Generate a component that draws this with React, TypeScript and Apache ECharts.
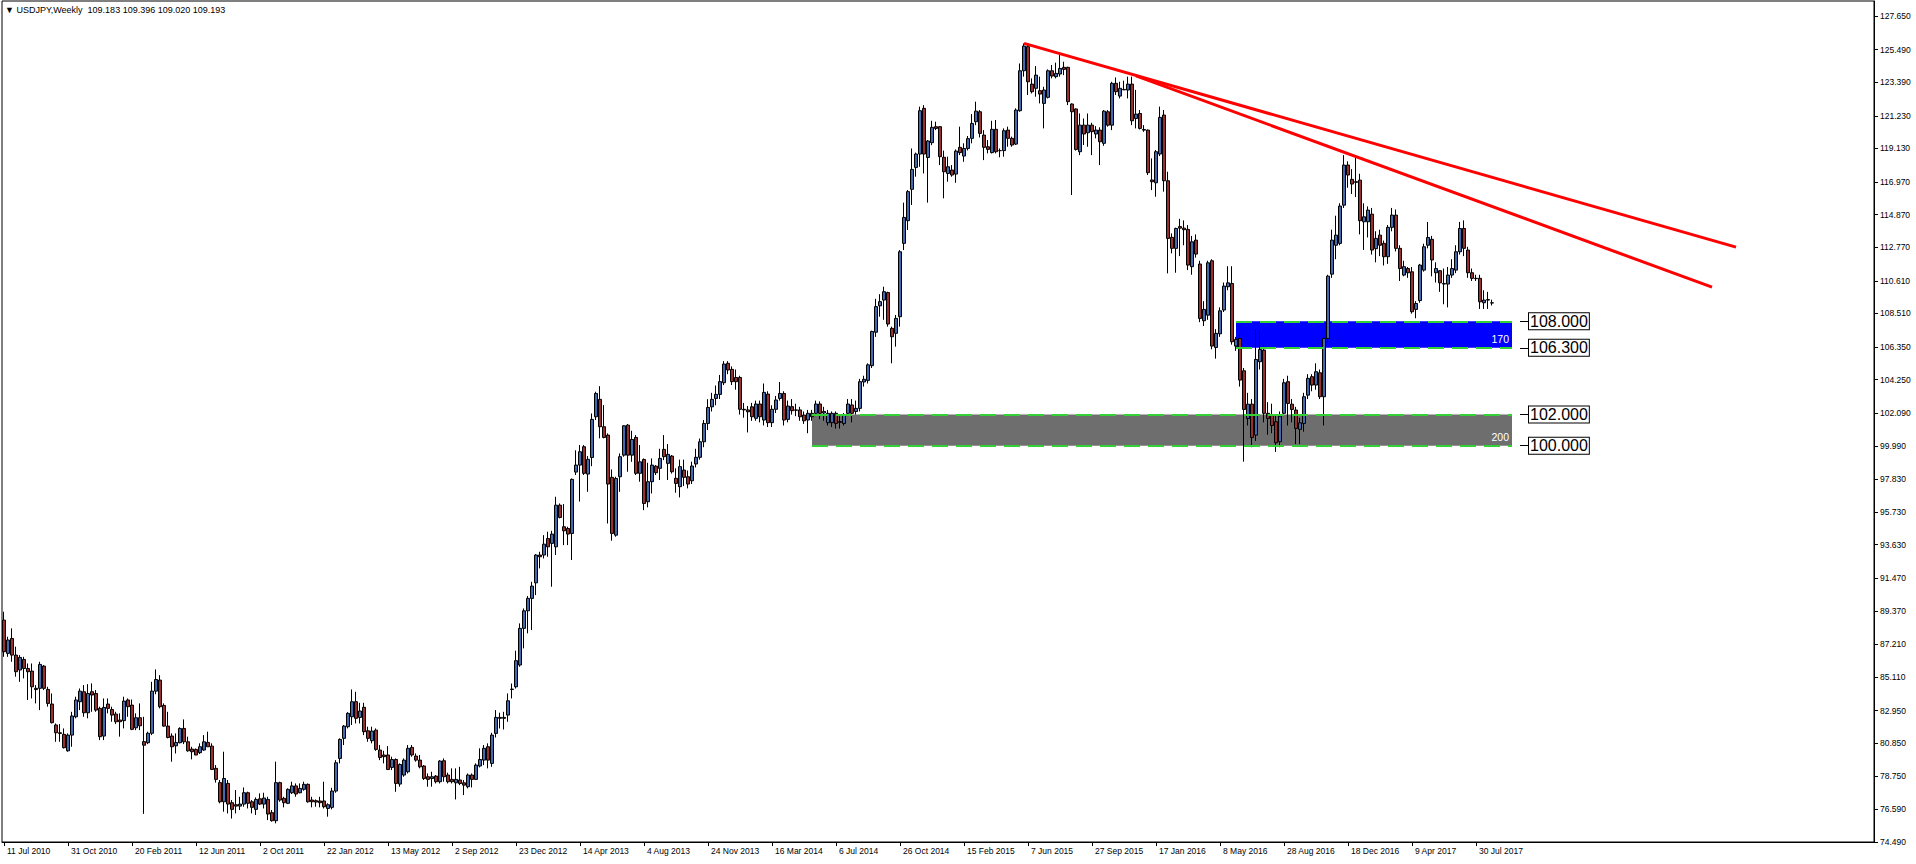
import React, { useEffect, useRef } from "react";
import * as echarts from "echarts";

// ---------- text / meta ----------
const SYMBOL_TITLE = "USDJPY,Weekly";
const TITLE_QUOTE = ["109.183", "109.396", "109.020", "109.193"];
const LAST_PRICE = 109.193;
const MONTHS = ["Jan", "Feb", "Mar", "Apr", "May", "Jun", "Jul", "Aug", "Sep", "Oct", "Nov", "Dec"];
const WEEK_SLOTS = 468; // visible weekly slots incl. right-side chart shift
const LABEL_STEP = 16; // a date label every 16 weeks

// right axis tick labels as printed
const priceTicks = [
  74.49, 76.59, 78.75, 80.85, 82.95, 85.11, 87.21, 89.37, 91.47, 93.63, 95.73, 97.83, 99.99,
  102.09, 104.25, 106.35, 108.51, 110.61, 112.77, 114.87, 116.97, 119.13, 121.23, 123.39, 125.49, 127.65,
];

// ---------- weekly candles [open, high, low, close] ----------
const w2010 = [
  [88.77, 89.31, 86.41, 86.74], [86.63, 87.7, 86.41, 87.49], [87.59, 88.24, 86.09, 86.52], [86.52, 87.06, 85.13, 85.45],
  [85.56, 86.52, 84.8, 86.37], [86.24, 86.41, 85.02, 85.66], [85.66, 85.98, 83.63, 85.45], [85.49, 85.98, 83.73, 84.48],
  [84.38, 84.59, 83.41, 84.3], [84.38, 86.09, 82.98, 85.92], [85.81, 85.88, 84.27, 84.38], [84.31, 84.48, 83.2, 83.41],
  [83.37, 84.05, 82.12, 82.17], [82.02, 82.12, 80.94, 81.52], [81.52, 82.08, 80.94, 81.48], [81.42, 81.8, 80.51, 80.56],
  [80.36, 81.48, 80.3, 81.37], [81.37, 82.87, 80.62, 82.6], [82.55, 83.84, 82.45, 83.63], [83.52, 84.37, 82.98, 84.2],
  [84.16, 84.59, 82.55, 82.81], [82.81, 84.65, 82.45, 84.05], [84.16, 84.7, 82.87, 83.95], [84.05, 84.27, 82.87, 82.98],
  [83.09, 83.2, 81.05, 81.27],
];
const w2011 = [
  [81.31, 83.73, 81.05, 83.15], [83.37, 83.73, 82.77, 83.09], [83.02, 83.2, 82.23, 82.66], [82.72, 82.87, 82.08, 82.23],
  [82.34, 82.77, 81.27, 82.23], [82.3, 83.84, 81.8, 83.56], [83.63, 83.73, 82.55, 83.2], [83.3, 83.66, 81.69, 81.74],
  [81.84, 82.77, 81.69, 82.49], [82.49, 83.41, 81.69, 81.97], [80.95, 82.55, 76.3, 80.72], [80.88, 81.59, 80.79, 81.49],
  [81.49, 84.8, 81.37, 84.2], [84.2, 85.6, 84.0, 84.95], [84.91, 85.23, 83.09, 83.2], [83.28, 83.41, 81.91, 81.95],
  [81.95, 82.87, 81.16, 81.22], [81.31, 81.48, 79.66, 80.62], [80.68, 81.48, 80.19, 80.9], [80.88, 81.87, 80.84, 81.8],
  [81.8, 82.38, 80.79, 80.94], [80.94, 81.27, 80.3, 80.36], [80.47, 80.62, 79.81, 80.3], [80.45, 80.51, 80.08, 80.09],
  [80.24, 80.84, 80.15, 80.62], [80.41, 81.37, 80.36, 80.94], [80.9, 81.59, 80.62, 80.62], [80.66, 80.84, 79.12, 79.16],
  [79.23, 79.44, 78.31, 78.52], [78.31, 78.48, 76.98, 77.08], [77.08, 80.3, 76.44, 78.58], [78.26, 78.48, 76.33, 76.93],
  [77.02, 77.19, 76.0, 76.59], [76.89, 77.83, 76.33, 76.8], [76.8, 77.4, 76.55, 76.93], [76.93, 78.0, 76.76, 77.66],
  [77.66, 77.73, 76.65, 76.98], [77.08, 77.19, 76.33, 76.72], [76.59, 77.36, 76.23, 77.23], [77.27, 77.62, 76.87, 76.93],
  [76.93, 77.66, 76.65, 77.32], [77.23, 77.4, 75.9, 76.29], [76.38, 76.55, 75.8, 75.86], [75.86, 79.66, 75.69, 78.31],
  [78.31, 78.37, 77.08, 77.19], [77.3, 77.4, 76.72, 77.02], [76.98, 77.94, 76.93, 77.88], [77.66, 78.37, 77.58, 78.1],
  [78.1, 78.26, 77.4, 77.58], [77.66, 78.26, 77.62, 77.94], [77.88, 78.37, 77.79, 78.2], [78.2, 78.26, 77.02, 77.08],
];
const w2012 = [
  [77.19, 77.4, 76.72, 77.08], [77.15, 77.23, 76.76, 77.06], [77.13, 77.4, 76.72, 77.02], [77.13, 78.37, 76.65, 76.76],
  [76.65, 76.98, 76.12, 76.89], [76.72, 77.98, 76.59, 77.77], [77.77, 79.76, 77.66, 79.59], [79.87, 81.16, 79.55, 81.09],
  [81.16, 82.02, 80.73, 81.95], [81.91, 82.85, 81.8, 82.77], [82.55, 84.31, 82.02, 83.52], [83.52, 84.16, 82.12, 82.45],
  [82.51, 83.45, 82.12, 82.92], [83.16, 83.45, 81.37, 81.59], [81.65, 81.91, 80.94, 81.16], [81.01, 81.91, 80.84, 81.63],
  [81.69, 81.8, 80.36, 80.45], [80.41, 80.73, 79.76, 79.93], [80.09, 80.36, 79.55, 79.98], [80.09, 80.66, 79.12, 79.16],
  [79.29, 79.98, 79.12, 79.8], [79.8, 79.87, 77.72, 78.26], [78.22, 79.55, 78.05, 79.48], [78.8, 79.87, 78.69, 79.76],
  [79.01, 80.73, 78.9, 80.52], [80.58, 80.73, 79.98, 80.09], [80.02, 80.19, 79.66, 79.76], [79.76, 80.09, 79.23, 79.33],
  [79.38, 79.44, 78.48, 78.58], [78.69, 78.9, 78.05, 78.52], [78.58, 79.01, 78.05, 78.69], [78.73, 78.8, 78.26, 78.37],
  [78.37, 79.76, 78.26, 79.7], [79.72, 79.87, 78.37, 78.69], [78.8, 78.95, 78.26, 78.37], [78.52, 79.23, 78.26, 78.37],
  [78.3, 79.23, 77.23, 78.52], [78.48, 79.33, 78.15, 78.26], [78.3, 78.48, 77.51, 78.15], [78.05, 78.9, 77.94, 78.8],
  [78.8, 78.9, 78.0, 78.52], [78.52, 79.55, 78.48, 79.44], [79.38, 80.52, 79.29, 79.8], [79.76, 80.73, 79.44, 80.52],
  [80.62, 80.84, 79.23, 79.76], [79.55, 81.52, 79.33, 81.37], [81.48, 82.98, 81.22, 82.51], [82.45, 82.81, 81.8, 82.51],
  [82.51, 82.87, 81.73, 82.45], [82.66, 84.05, 82.23, 83.58], [84.33, 84.69, 83.73, 84.31], [84.48, 86.8, 84.37, 86.16],
  [85.88, 88.56, 85.77, 88.24],
];
const w2013 = [
  [88.24, 89.52, 86.95, 89.37], [89.37, 90.32, 87.92, 90.17], [90.17, 91.24, 88.13, 90.96], [91.17, 93.02, 90.38, 92.96],
  [92.96, 93.17, 92.1, 92.85], [92.96, 94.24, 92.74, 93.66], [94.02, 94.46, 92.85, 93.49], [93.71, 94.52, 90.92, 94.31],
  [93.49, 96.71, 92.96, 96.17], [96.17, 96.28, 95.32, 95.38], [94.78, 96.24, 93.6, 94.52], [94.67, 94.78, 93.6, 94.31],
  [94.35, 97.89, 92.64, 97.83], [98.3, 99.7, 98.11, 98.75], [98.75, 100.04, 96.4, 99.61], [99.93, 100.04, 98.11, 98.22],
  [98.17, 99.33, 97.03, 99.12], [99.24, 102.07, 98.68, 101.69], [101.86, 103.47, 101.65, 103.36], [102.98, 103.83, 100.47, 101.22],
  [101.22, 102.61, 100.47, 100.53], [100.68, 100.79, 94.99, 97.53], [97.96, 98.47, 93.88, 94.35], [94.24, 98.0, 94.14, 97.89],
  [98.0, 99.5, 97.03, 99.29], [99.39, 101.32, 99.29, 101.28], [101.32, 101.39, 98.32, 99.39], [99.39, 100.96, 98.96, 100.4],
  [100.53, 100.68, 98.11, 98.22], [98.22, 100.04, 97.68, 98.96], [99.11, 99.18, 95.85, 96.28], [96.39, 98.9, 96.03, 97.68],
  [97.68, 99.18, 96.92, 98.75], [98.68, 98.75, 98.11, 98.26], [98.54, 99.8, 97.79, 99.18], [99.76, 100.68, 99.07, 99.29],
  [98.86, 100.1, 97.79, 99.44], [99.33, 99.4, 98.2, 98.32], [97.9, 98.54, 96.97, 97.57], [97.36, 99.1, 96.67, 98.65],
  [98.43, 99.1, 97.4, 97.96], [98.0, 98.4, 97.25, 97.53], [97.74, 98.97, 97.53, 98.69], [98.82, 99.8, 98.6, 99.25],
  [99.25, 100.46, 99.1, 100.25], [100.25, 101.65, 99.9, 101.43], [101.43, 102.99, 101.0, 102.46], [102.5, 103.4, 102.2, 102.98],
  [103.04, 103.87, 102.6, 103.3], [103.3, 104.55, 103.0, 104.12], [104.05, 105.44, 103.9, 105.25], [105.3, 105.44, 104.6, 104.87],
];
const w2014 = [
  [104.91, 105.1, 103.9, 104.12], [104.39, 104.9, 103.6, 104.12], [104.39, 104.5, 102.0, 102.34], [102.34, 102.75, 101.8, 102.3],
  [102.3, 102.55, 100.85, 102.18], [102.5, 102.75, 101.6, 101.86], [101.76, 102.9, 101.6, 102.68], [102.68, 102.9, 101.5, 101.86],
  [101.65, 104.0, 101.3, 103.43], [103.32, 103.5, 101.2, 101.48], [101.48, 102.6, 101.2, 102.34], [102.34, 103.2, 102.1, 102.94],
  [103.04, 104.1, 102.9, 103.36], [103.36, 103.5, 101.3, 101.65], [101.69, 102.9, 101.5, 102.55], [102.51, 103.0, 102.0, 102.25],
  [102.3, 102.7, 101.9, 102.28], [102.3, 102.5, 101.6, 101.86], [101.97, 102.2, 101.4, 101.6], [101.65, 102.3, 100.8, 102.08],
  [102.08, 102.3, 101.6, 101.86], [102.08, 102.9, 101.9, 102.68], [102.68, 102.85, 101.7, 102.08], [102.1, 102.5, 101.6, 102.2],
  [101.48, 102.3, 101.3, 102.08], [101.48, 102.2, 101.2, 102.08], [102.08, 102.2, 101.1, 101.43], [101.55, 101.9, 101.1, 101.5],
  [101.43, 102.1, 101.3, 101.97], [102.08, 103.0, 101.9, 102.68], [102.62, 103.0, 101.5, 102.08], [102.2, 102.9, 102.0, 102.4],
  [102.4, 104.3, 102.2, 104.12], [104.1, 104.5, 103.8, 104.27], [104.2, 105.3, 104.0, 105.2], [105.15, 107.4, 105.0, 107.35],
  [107.3, 109.45, 107.0, 108.95], [109.0, 109.75, 108.3, 109.27], [109.37, 110.23, 108.1, 109.91], [109.85, 109.91, 107.66, 107.83],
  [107.55, 107.66, 105.3, 107.01], [107.23, 108.41, 106.37, 108.19], [108.3, 112.59, 107.66, 112.48], [113.02, 115.64, 112.59, 114.69],
  [114.48, 116.45, 113.88, 116.35], [116.5, 119.13, 115.49, 117.78], [117.91, 118.86, 117.31, 118.77], [118.77, 121.82, 117.95, 121.56],
  [121.71, 121.92, 117.52, 118.77], [118.55, 119.67, 115.64, 119.61], [119.5, 120.91, 119.34, 120.49], [120.53, 120.85, 120.31, 120.42],
];
const w2015 = [
  [120.53, 120.57, 118.06, 118.6], [118.56, 118.99, 115.92, 117.63], [117.52, 118.6, 116.99, 117.95], [117.74, 118.06, 117.31, 117.42],
  [117.48, 119.07, 116.92, 118.96], [119.2, 120.53, 118.7, 118.86], [118.64, 119.46, 118.27, 119.13], [119.13, 119.93, 119.0, 119.76],
  [119.78, 121.34, 119.46, 120.74], [120.85, 122.14, 120.63, 121.53], [121.49, 121.6, 119.84, 120.1], [119.99, 120.31, 118.38, 119.2],
  [119.24, 119.67, 118.81, 119.07], [118.86, 120.91, 118.81, 120.36], [120.36, 120.96, 118.81, 118.92], [118.99, 119.13, 118.56, 118.99],
  [118.99, 120.42, 118.6, 120.27], [120.31, 120.53, 119.24, 119.78], [119.78, 119.89, 119.24, 119.35], [119.41, 121.71, 119.35, 121.6],
  [121.56, 124.6, 121.49, 124.13], [124.13, 125.89, 123.75, 125.72], [125.68, 125.79, 122.57, 123.42], [123.27, 123.64, 122.67, 122.78],
  [123.0, 124.43, 122.46, 123.85], [122.85, 123.75, 122.03, 122.63], [122.03, 123.1, 120.42, 122.89], [122.42, 124.22, 122.35, 124.13],
  [124.13, 124.5, 123.64, 123.79], [123.75, 124.65, 123.64, 123.96], [123.92, 125.14, 123.75, 124.28], [124.35, 124.71, 123.85, 124.22],
  [124.35, 124.39, 121.92, 122.14], [121.99, 122.03, 116.13, 121.49], [121.67, 121.71, 118.99, 119.07], [118.92, 121.38, 118.7, 120.63],
  [120.63, 121.06, 119.35, 120.06], [120.14, 121.38, 119.24, 120.63], [120.63, 120.78, 118.7, 120.21], [120.06, 120.57, 119.78, 120.31],
  [120.31, 120.49, 118.06, 119.56], [119.46, 121.6, 119.3, 121.53], [121.49, 121.6, 120.53, 120.63], [120.63, 123.42, 120.31, 123.32],
  [123.32, 123.7, 122.57, 122.78], [122.5, 123.42, 122.35, 123.0], [122.93, 123.49, 122.89, 122.9], [122.89, 123.75, 122.35, 123.27],
  [123.27, 123.75, 120.63, 120.91], [121.06, 122.9, 120.42, 121.34], [121.38, 121.6, 120.35, 120.42], [120.35, 120.63, 120.2, 120.31],
];
const w2016 = [
  [120.31, 120.35, 117.42, 117.57], [117.1, 118.49, 116.45, 116.99], [116.92, 119.03, 116.02, 118.92], [118.77, 121.82, 118.64, 121.13],
  [121.28, 121.6, 116.35, 117.05], [117.05, 117.63, 111.09, 113.34], [113.41, 113.66, 112.38, 112.7], [112.7, 114.03, 111.13, 113.98],
  [114.1, 114.6, 112.2, 114.0], [114.0, 114.5, 112.9, 113.9], [113.92, 114.2, 111.3, 111.62], [111.52, 113.5, 111.0, 113.12],
  [113.23, 113.6, 112.1, 112.33], [111.69, 111.9, 107.95, 108.19], [108.04, 109.3, 107.7, 108.77], [108.4, 111.9, 108.1, 111.77],
  [111.9, 112.0, 106.2, 106.41], [106.32, 107.5, 105.6, 107.23], [107.2, 108.9, 107.0, 108.68], [108.73, 110.5, 108.6, 110.27],
  [110.23, 111.55, 110.0, 110.48], [110.44, 111.55, 106.5, 106.69], [106.41, 107.0, 106.1, 106.84], [106.9, 107.2, 103.8, 104.22],
  [104.82, 105.0, 98.97, 102.33], [101.75, 103.4, 101.3, 102.67], [102.67, 103.0, 99.9, 100.53], [100.68, 107.5, 100.3, 105.55],
  [105.4, 107.4, 104.9, 106.19], [106.15, 106.5, 101.5, 102.08], [102.08, 102.8, 100.7, 101.75], [102.0, 102.7, 100.8, 101.3],
  [101.54, 102.0, 99.6, 100.19], [100.25, 102.2, 99.9, 101.9], [102.08, 104.3, 101.9, 104.05], [104.12, 104.5, 101.3, 102.72],
  [102.67, 103.0, 101.5, 102.33], [102.29, 102.5, 100.1, 101.11], [101.05, 101.8, 100.1, 101.47], [101.43, 103.4, 100.9, 103.15],
  [103.25, 104.6, 103.0, 104.33], [104.44, 104.6, 103.5, 103.9], [103.9, 105.3, 103.6, 104.76], [104.69, 104.9, 103.0, 103.15],
  [103.15, 107.0, 101.3, 106.9], [106.9, 111.0, 106.6, 110.91], [111.04, 113.9, 110.8, 113.23], [112.9, 114.8, 112.0, 113.55],
  [113.02, 115.6, 112.9, 115.42], [115.48, 118.7, 115.3, 118.06], [118.06, 118.3, 116.6, 117.42], [117.14, 117.8, 116.2, 116.84],
];
const w2017 = [
  [116.99, 118.6, 116.0, 116.95], [117.09, 117.5, 113.6, 114.48], [114.41, 115.6, 112.6, 114.73], [114.41, 115.4, 113.4, 115.16],
  [114.9, 115.3, 112.3, 112.59], [112.68, 113.8, 111.8, 113.34], [113.55, 113.9, 112.2, 112.9], [113.02, 113.2, 111.6, 112.16],
  [112.16, 114.2, 111.7, 114.05], [114.05, 115.3, 113.8, 114.84], [114.84, 115.2, 112.5, 112.7], [112.7, 112.9, 110.6, 111.4],
  [110.98, 111.9, 110.9, 111.52], [111.4, 111.5, 110.8, 111.13], [111.19, 111.5, 108.5, 108.62], [108.77, 109.3, 108.2, 109.15],
  [109.34, 111.7, 109.2, 111.62], [111.3, 113.0, 111.2, 112.8], [112.9, 114.4, 112.7, 113.4], [113.28, 113.5, 110.9, 111.95],
  [111.13, 111.8, 110.5, 111.4], [111.26, 111.3, 109.9, 110.48], [110.4, 111.4, 109.1, 110.44], [110.4, 111.5, 108.9, 110.98],
  [110.98, 112.0, 110.8, 111.4], [111.3, 112.9, 111.1, 112.48], [112.48, 114.4, 112.3, 113.98], [113.98, 114.5, 112.2, 112.7],
  [112.59, 112.8, 110.8, 111.13], [111.13, 111.4, 110.6, 110.77], [110.77, 111.0, 110.6, 110.75], [110.77, 111.0, 108.8, 109.26],
  [109.2, 110.0, 108.8, 109.37], [109.4, 109.9, 108.8, 109.37], [109.183, 109.396, 109.02, 109.193],
];

// ---------- drawn objects (week index, price) ----------
const zoneTop = [108.0, 102.0];
const zoneBottom = [106.3, 100.0];
const zoneFromWeek = [308, 202];
const zoneToWeek = 377;
const zoneNames = ["170", "200"];
const levelTags = [108.0, 106.3, 102.0, 100.0];
const trendA = [[255, 125.89], [433, 112.78]];
const trendB = [[283, 123.8], [427, 110.2]];

function weekLabel(i: number) {
  const d = new Date(Date.UTC(2010, 6, 11) + i * 7 * 86400000);
  return `${d.getUTCDate()} ${MONTHS[d.getUTCMonth()]} ${d.getUTCFullYear()}`;
}

function buildOption() {
  const weeks = [...w2010, ...w2011, ...w2012, ...w2013, ...w2014, ...w2015, ...w2016, ...w2017];
  const candles = weeks.map(([o, h, l, c]) => [o, c, l, h]);
  const categories = Array.from({ length: WEEK_SLOTS }, (_, i) => weekLabel(i));
  const showLabel = (idx: number) => idx % LABEL_STEP === 0 && idx < weeks.length;
  const FONT = "Liberation Sans";
  const GREEN = "#35d035";

  const lines: any[] = [];
  zoneTop.forEach((top, k) => {
    [top, zoneBottom[k]].forEach((lvl) => {
      lines.push([
        { coord: [zoneFromWeek[k], lvl], lineStyle: { color: GREEN, width: 2, type: [16, 8], opacity: 1 } },
        { coord: [zoneToWeek, lvl] },
      ]);
    });
  });
  levelTags.forEach((lvl) => {
    lines.push([
      {
        coord: [zoneToWeek + 2, lvl],
        lineStyle: { color: "#000", width: 1, type: "solid", opacity: 1 },
        label: {
          show: true, position: "end", distance: 1, formatter: lvl.toFixed(3),
          fontFamily: FONT, fontSize: 16, color: "#000", backgroundColor: "#fff",
          borderColor: "#000", borderWidth: 1, padding: [0, 1, 0, 1], lineHeight: 16,
        },
      },
      { coord: [zoneToWeek + 4, lvl] },
    ]);
  });
  [trendA, trendB].forEach(([a, b]) => {
    lines.push([
      { coord: a, lineStyle: { color: "#ff0000", width: 3, type: "solid", opacity: 1 } },
      { coord: b },
    ]);
  });
  lines.push({
    yAxis: LAST_PRICE,
    lineStyle: { opacity: 0 },
    label: {
      show: true, position: "end", distance: 1, formatter: LAST_PRICE.toFixed(3),
      fontFamily: FONT, fontSize: 9, color: "#fff", backgroundColor: "#000", padding: [1, 3, 0, 3],
    },
  });

  const areas = zoneTop.map((top, k) => [
    {
      xAxis: zoneFromWeek[k], yAxis: top,
      itemStyle: { color: k === 0 ? "#0000ff" : "#6e6e6e", opacity: 1 },
      label: { show: true, formatter: zoneNames[k] },
    },
    { xAxis: zoneToWeek, yAxis: zoneBottom[k] },
  ]);

  return {
    animation: false,
    backgroundColor: "#ffffff",
    textStyle: { fontFamily: FONT },
    grid: { left: 2, right: 42, top: 1, bottom: 22, show: true, borderColor: "#000", borderWidth: 1 },
    graphic: [
      {
        type: "text", left: 5, top: 5,
        style: { text: `▼ ${SYMBOL_TITLE}  ${TITLE_QUOTE.join(" ")}`, font: `9px "${FONT}"`, fill: "#000" },
      },
    ],
    xAxis: {
      type: "category",
      data: categories,
      boundaryGap: true,
      axisLine: { show: true, lineStyle: { color: "#000", width: 1 } },
      axisTick: { show: true, interval: showLabel, alignWithLabel: true, length: 4, lineStyle: { color: "#000" } },
      axisLabel: {
        interval: showLabel, align: "left", margin: 4, fontSize: 8.5, color: "#000",
        padding: [0, 0, 0, 3], fontFamily: FONT,
      },
      splitLine: { show: false },
    },
    yAxis: {
      type: "value",
      position: "right",
      min: 74.49,
      max: 128.62,
      axisLine: { show: true, onZero: false, lineStyle: { color: "#000", width: 1 } },
      axisTick: { show: true, length: 4, customValues: priceTicks, lineStyle: { color: "#000" } },
      axisLabel: {
        customValues: priceTicks, formatter: (v: number) => v.toFixed(3),
        fontSize: 8.5, color: "#000", margin: 6, fontFamily: FONT,
      },
      splitLine: { show: false },
    },
    series: [
      {
        type: "candlestick",
        data: candles,
        barWidth: 3,
        clip: false,
        itemStyle: {
          color: "#4169b0", color0: "#9a2e2e",
          borderColor: "#000", borderColor0: "#000", borderColorDoji: "#000", borderWidth: 1,
        },
        markArea: {
          silent: true,
          z: 1,
          label: {
            position: "insideBottomRight", distance: 3, color: "#fff", fontSize: 10.5, fontFamily: FONT,
          },
          data: areas,
        },
        markLine: {
          silent: true,
          symbol: ["none", "none"],
          label: { show: false },
          data: lines,
        },
      },
    ],
  };
}

export default function App() {
  const ref = useRef<HTMLDivElement>(null);
  useEffect(() => {
    const chart = echarts.init(ref.current!, null, { renderer: "svg" });
    chart.setOption(buildOption() as any);
    return () => chart.dispose();
  }, []);
  return (
    <div
      ref={ref}
      style={{ position: "fixed", left: 0, top: 0, width: 1916, height: 864, background: "#fff" }}
    />
  );
}
